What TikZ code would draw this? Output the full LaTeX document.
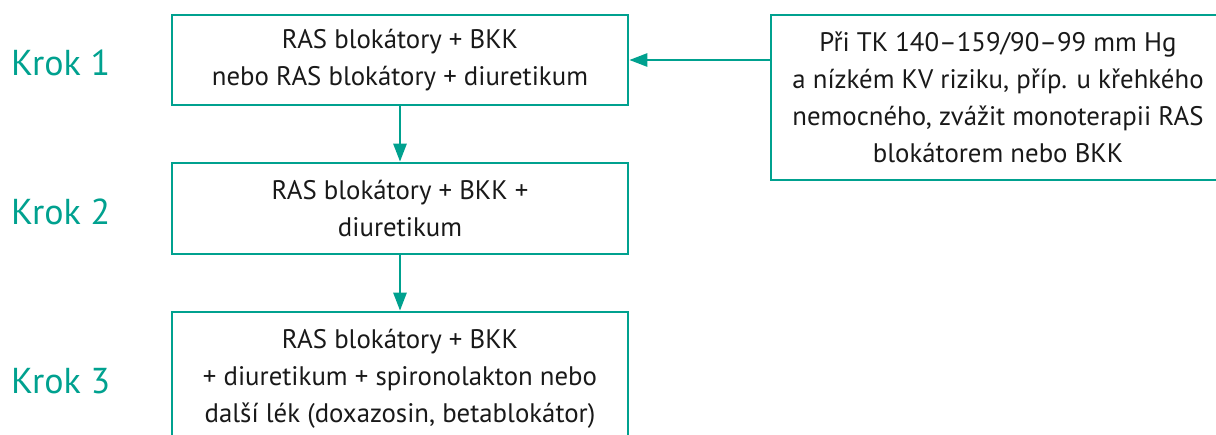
\documentclass[tikz,border=0pt]{standalone}
\usepackage{fontspec}
\setmainfont{PT Sans}
\usetikzlibrary{arrows.meta}
\definecolor{teal1}{RGB}{0,161,143}
\begin{document}
\begin{tikzpicture}[x=1pt,y=-1pt,
  box/.style={draw=teal1,line width=2.6pt,inner sep=0pt,align=center,
    font=\fontsize{26.8}{37}\selectfont,text=black!90},
  krok/.style={text=teal1,font=\fontsize{36}{40}\selectfont,anchor=base west,inner sep=0pt},
  arr/.style={draw=teal1,line width=2.6pt,-{Triangle[length=18pt,width=13pt]}}]
\clip (0,0) rectangle (1216,434);
\useasboundingbox (0,0) rectangle (1216,434);
\node[box,minimum width=456pt,minimum height=90pt] (b1) at (400,60)
  {RAS blokátory + BKK\\nebo RAS blokátory + diuretikum};
\node[box,minimum width=456pt,minimum height=91pt] (b2) at (400,208.5)
  {RAS blokátory + BKK +\\diuretikum};
\node[box,minimum width=456pt,minimum height=134pt] (b3) at (400,379)
  {RAS blokátory + BKK\\+ diuretikum + spironolakton nebo\\další lék (doxazosin, betablokátor)};
\node[box,minimum width=454pt,minimum height=165pt] (rb) at (998,97.5)
  {Při TK 140–159/90–99 mm Hg\\a nízkém KV riziku, příp. u křehkého\\nemocného, zvážit monoterapii RAS\\blokátorem nebo BKK};
\node[krok] (k1) at (11,75) {Krok 1};
\node[krok] (k2) at (11,224) {Krok 2};
\node[krok] (k3) at (11,393) {Krok 3};
\draw[arr] (b1.south) -- (b2.north);
\draw[arr] (b2.south) -- (b3.north);
\draw[arr] (rb.west |- b1.east) -- (b1.east);
\end{tikzpicture}
\end{document}
